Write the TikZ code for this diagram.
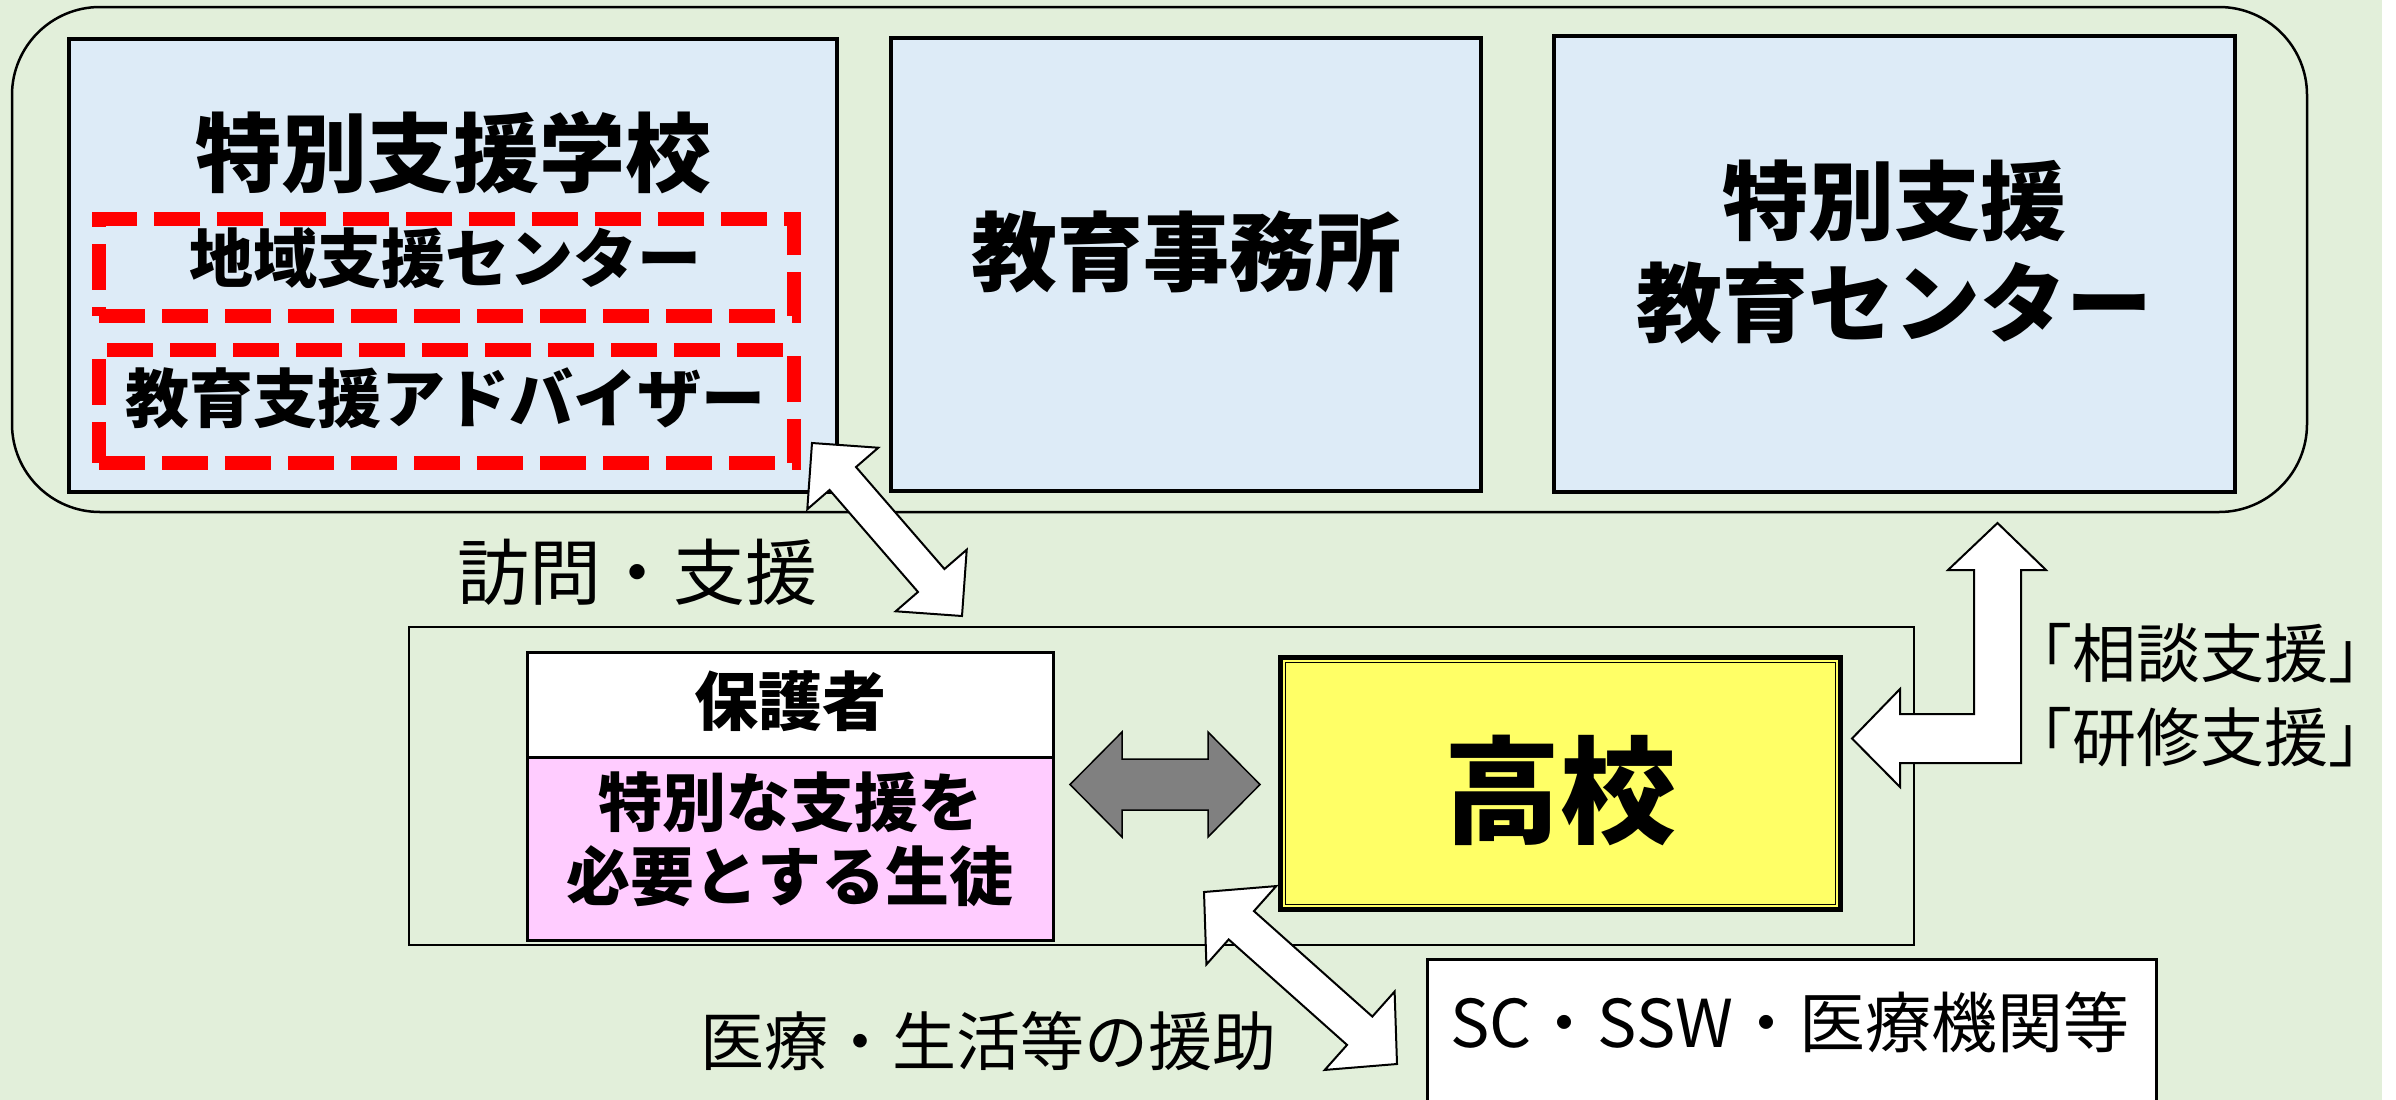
\documentclass[tikz,border=0pt]{standalone}
\usepackage{fontspec}
\usetikzlibrary{calc}
\newfontfamily\jp{Noto Sans CJK JP}
\newfontfamily\jpb{Noto Sans CJK JP Black}
\definecolor{bggreen}{RGB}{226,239,218}
\definecolor{boxblue}{RGB}{221,235,247}
\definecolor{pinkfill}{RGB}{255,204,255}
\definecolor{yellowfill}{RGB}{255,255,102}
\definecolor{arrowgray}{RGB}{128,128,128}
% double-headed block arrow: style, A, B, head length, half head width, half shaft width
\newcommand\dblarrow[6]{%
  \draw[#1] (#2) -- ($(#2)!#4!(#3)!#5!90:(#3)$) -- ($(#2)!#4!(#3)!#6!90:(#3)$)
    -- ($(#3)!#4!(#2)!#6!-90:(#2)$) -- ($(#3)!#4!(#2)!#5!-90:(#2)$) -- (#3)
    -- ($(#3)!#4!(#2)!#5!90:(#2)$) -- ($(#3)!#4!(#2)!#6!90:(#2)$)
    -- ($(#2)!#4!(#3)!#6!-90:(#3)$) -- ($(#2)!#4!(#3)!#5!-90:(#3)$) -- cycle;}
\begin{document}
\begin{tikzpicture}[x=1pt,y=-1pt,
  every node/.style={inner sep=0pt,outer sep=0pt},
  bluebox/.style={draw=black,line width=3.5pt,fill=boxblue},
  reddash/.style={draw=red,line width=14pt,dash pattern=on 46pt off 17pt},
  plainbox/.style={draw=black,line width=3pt},
  boldtxt/.style={font=\jpb\fontsize{#1}{#1}\selectfont,align=center},
  regtxt/.style={font=\jp\fontsize{#1}{#1}\selectfont,align=center},
  whitearrow/.style={draw=black,line width=2pt,fill=white,line join=miter},
  grayarrow/.style={draw=black,line width=1.5pt,fill=arrowgray,line join=miter}]
\useasboundingbox (0,0) rectangle (2396,1100);
\clip (0,0) rectangle (2396,1100);
\fill[bggreen] (0,0) rectangle (2382,1100);
\fill[white] (2382,0) rectangle (2396,1100);

% top group
\node[draw=black,line width=2.5pt,rounded corners=88pt,minimum width=2295pt,minimum height=505pt] (group) at (1159.5,259.5) {};
\node[bluebox,minimum width=768pt,minimum height=453pt] (school) at (453,265.5) {};
\node[bluebox,minimum width=590pt,minimum height=453pt] (office) at (1186,264.5) {};
\node[bluebox,minimum width=681pt,minimum height=456pt] (center) at (1894.5,264) {};

\node[boldtxt=86] (schooltxt) at (453,153) {特別支援学校};
\node[reddash,minimum width=695pt,minimum height=97pt] (dash1) at (446.5,267.5) {};
\node[reddash,minimum width=695pt,minimum height=113pt] (dash2) at (446.5,406.5) {};
\node[boldtxt=64] (localtxt) at (445,258) {地域支援センター};
\node[boldtxt=64] (advtxt) at (445,398) {教育支援アドバイザー};
\node[boldtxt=86] (officetxt) at (1186,252) {教育事務所};
\node[font=\jpb\fontsize{86}{102}\selectfont,align=center] (centertxt) at (1894,252) {特別支援\\教育センター};

% middle group
\node[draw=black,line width=2pt,minimum width=1505pt,minimum height=318pt] (mid) at (1161.5,786) {};
\node[plainbox,fill=white,minimum width=526pt,minimum height=105pt] (parent) at (790,704.5) {};
\node[plainbox,fill=pinkfill,minimum width=526pt,minimum height=183pt] (student) at (790,848.5) {};
\node[boldtxt=64] (parenttxt) at (790,701) {保護者};
\node[font=\jpb\fontsize{64}{74}\selectfont,align=center] (studenttxt) at (790,839) {特別な支援を\\必要とする生徒};

\node[draw=black,line width=5pt,fill=yellowfill,minimum width=560pt,minimum height=252pt] (hs) at (1560.5,783.5) {};
\draw[line width=1.3pt] ($(hs.north west)+(5pt,-5pt)$) rectangle ($(hs.south east)+(-5pt,5pt)$);
\node[boldtxt=116] (hstxt) at (1560,790) {高校};

% outside resources
\node[plainbox,fill=white,minimum width=729pt,minimum height=156pt] (sc) at (1791.5,1037) {};
\node[regtxt=66] (sctxt) at (1790,1022) {SC・SSW・医療機関等};

% arrows
\coordinate (v1) at (812,443); \coordinate (v2) at (962,616);
\dblarrow{whitearrow}{v1}{v2}{47pt}{47pt}{17.5pt}
\coordinate (m1) at (1204,892); \coordinate (m2) at (1397,1064);
\dblarrow{whitearrow}{m1}{m2}{50pt}{52.5pt}{19pt}
\coordinate (g1) at (1070,784.5); \coordinate (g2) at (1260,784.5);
\dblarrow{grayarrow}{g1}{g2}{52pt}{52.5pt}{25.5pt}
\coordinate (ltip) at (1852,738.5); \coordinate (utip) at (1997.5,523);
\draw[whitearrow] (ltip) -- (1900,689) -- (1900,714) -- (1974,714) -- (1974,570) -- (1948,570)
  -- (utip) -- (2046,570) -- (2021,570) -- (2021,763) -- (1900,763) -- (1900,787) -- cycle;

% labels
\node[regtxt=72] (visit) at (637,572) {訪問・支援};
\node[font=\jp\fontsize{64}{84}\selectfont,align=center] (consult) at (2200,695) {「相談支援」\\「研修支援」};
\node[regtxt=64] (medical) at (988,1041) {医療・生活等の援助};
\end{tikzpicture}
\end{document}
